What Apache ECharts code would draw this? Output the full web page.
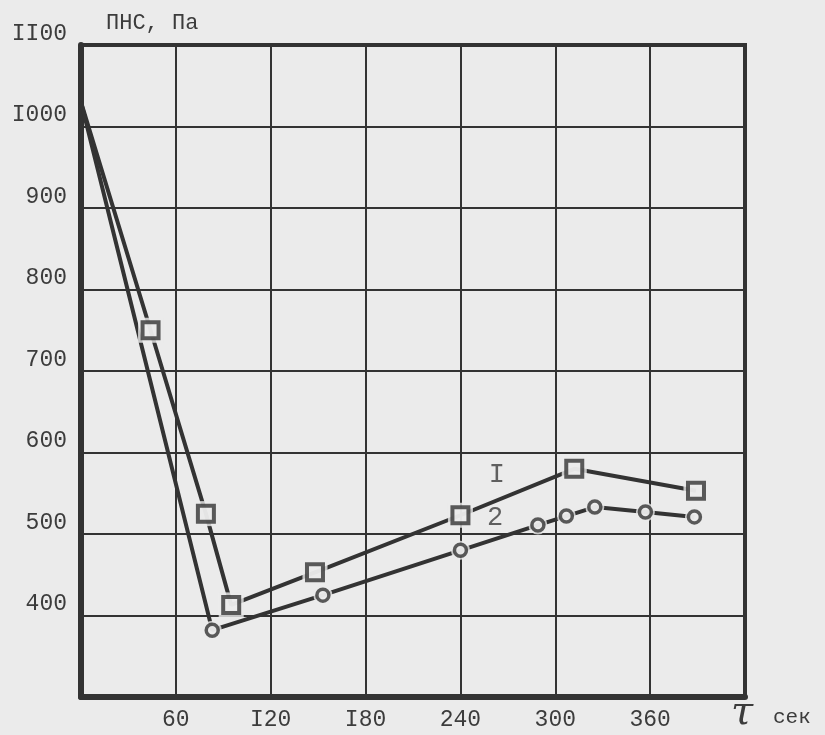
<!DOCTYPE html>
<html><head><meta charset="utf-8">
<script src="https://cdn.jsdelivr.net/npm/echarts@6/dist/echarts.min.js"></script>
<style>html,body{margin:0;background:#ebebeb}#c{width:825px;height:735px}</style>
</head><body><div id="c"></div>
<script>
// data
const xTickLabels = {60:'60',120:'I20',180:'I80',240:'240',300:'300',360:'360'};
const yTickLabels = {400:'400',500:'500',600:'600',700:'700',800:'800',900:'900',1000:'I000',1100:'II00'};
const s1x = [0, 44, 79, 95, 148, 240, 312, 389];
const s1y = [1030, 750, 525, 413, 453, 523, 580, 553];
const s2x = [0, 83, 153, 240, 289, 307, 325, 357, 388];
const s2y = [1030, 382, 425, 480, 511, 522, 533, 527, 521];
const curveLabels = ['I', '2'];
const curveLabelX = [263, 262];
const curveLabelY = [572, 520];

const BG = '#ebebeb', INK = '#333333', TXT = '#3c3c3c';
const pts = (xs, ys) => xs.map((x, i) => [x, ys[i]]);
const marks = (xs, ys) => pts(xs, ys).slice(1);
const FONT = 'Liberation Mono';

const chart = echarts.init(document.getElementById('c'));
chart.setOption({
  backgroundColor: BG,
  animation: false,
  grid: {left: 81, right: 80, top: 45, bottom: 38, show: true, borderColor: INK, borderWidth: 4, backgroundColor: 'transparent'},
  xAxis: {
    type: 'value', min: 0, max: 420, interval: 60,
    axisLine: {show: true, onZero: false, lineStyle: {color: INK, width: 6}},
    axisTick: {show: false},
    splitLine: {show: true, lineStyle: {color: INK, width: 2}},
    axisLabel: {fontFamily: FONT, fontSize: 23, color: TXT, margin: 11,
      formatter: v => xTickLabels[v] || ''}
  },
  yAxis: {
    type: 'value', min: 300, max: 1100, interval: 100,
    axisLine: {show: true, onZero: false, lineStyle: {color: INK, width: 6}},
    axisTick: {show: false},
    splitLine: {show: true, lineStyle: {color: INK, width: 2}},
    axisLabel: {fontFamily: FONT, fontSize: 23, color: TXT, margin: 14,
      verticalAlign: 'bottom', showMaxLabel: true,
      formatter: v => yTickLabels[v] || ''}
  },
  graphic: [
    {type: 'text', left: 106, top: 12, style: {text: 'ПНС, Па', font: '22px "Liberation Mono"', fill: TXT}},
    {type: 'text', left: 731, top: 694, style: {text: 'τ', font: 'italic 40px "DejaVu Serif"', fill: TXT}},
    {type: 'text', left: 773, top: 707, style: {text: 'сек', font: '21px "Liberation Mono"', fill: TXT}}
  ],
  series: [
    {type: 'line', data: pts(s1x, s1y), showSymbol: false, lineStyle: {color: INK, width: 4}, z: 2},
    {type: 'line', data: pts(s2x, s2y), showSymbol: false, lineStyle: {color: INK, width: 4}, z: 2},
    {type: 'scatter', data: marks(s1x, s1y), symbol: 'rect', symbolSize: 25, itemStyle: {color: BG}, z: 3, silent: true},
    {type: 'scatter', data: marks(s2x, s2y), symbol: 'circle', symbolSize: 19, itemStyle: {color: BG}, z: 3, silent: true},
    {type: 'scatter', data: marks(s1x, s1y), symbol: 'rect', symbolSize: 16, itemStyle: {color: BG, borderColor: INK, borderWidth: 4}, z: 4},
    {type: 'scatter', data: marks(s2x, s2y), symbol: 'circle', symbolSize: 12, itemStyle: {color: BG, borderColor: INK, borderWidth: 3.5}, z: 4},
    {type: 'scatter', symbolSize: 0, z: 5,
      data: curveLabels.map((t, i) => ({value: [curveLabelX[i], curveLabelY[i]], name: t})),
      label: {show: true, position: 'inside', formatter: p => p.name, fontFamily: FONT, fontSize: 27, color: TXT}}
  ]
});
</script></body></html>
